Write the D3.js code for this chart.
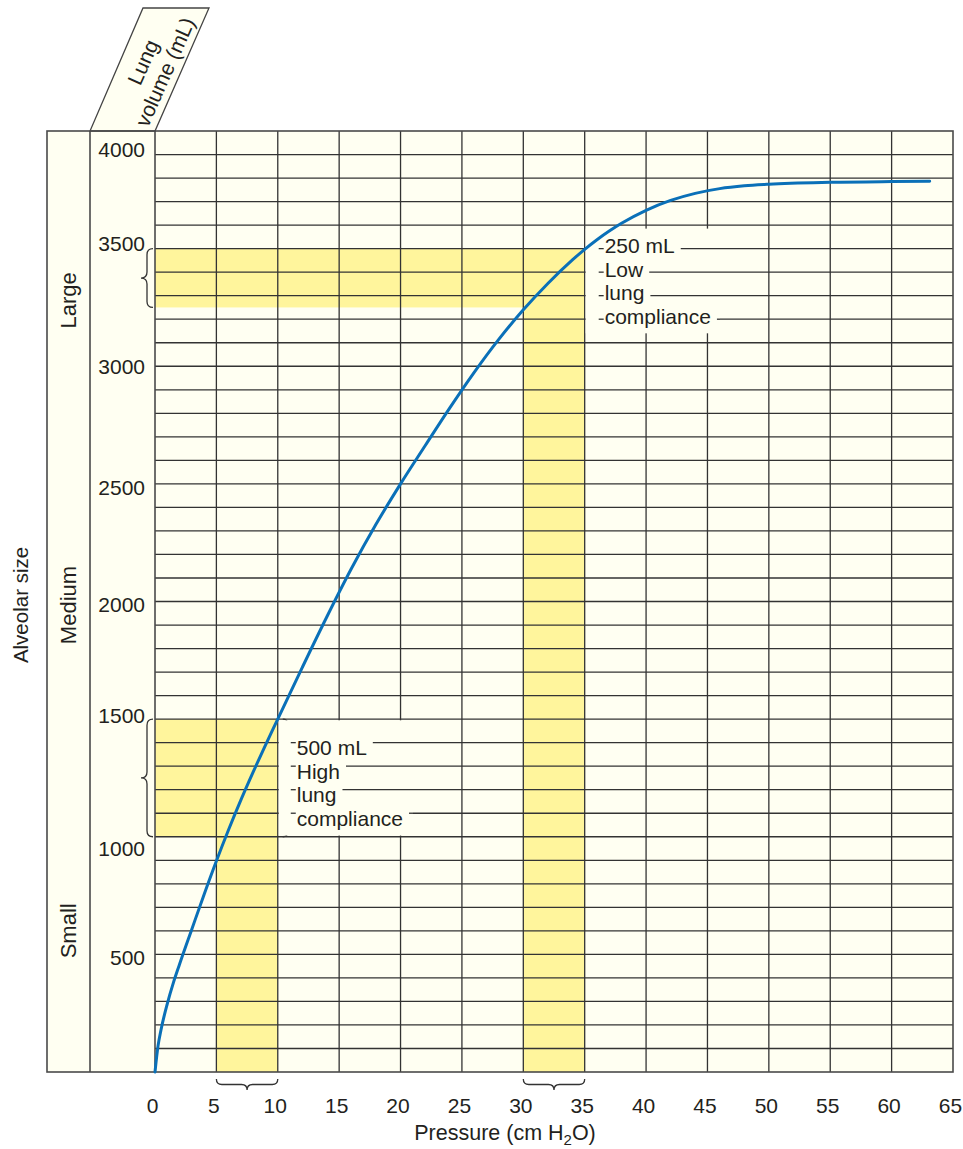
<!DOCTYPE html>
<html>
<head>
<meta charset="utf-8">
<script src="https://cdn.jsdelivr.net/npm/d3@7"></script>
<style>
  html, body { margin: 0; padding: 0; background: #ffffff; }
  svg { display: block; font-family: "Liberation Sans", Arial, Helvetica, sans-serif; }
</style>
</head>
<body>
<svg id="chart" width="963" height="1149"></svg>
<script>
// ---- data ----
const pressureTicks = [0, 5, 10, 15, 20, 25, 30, 35, 40, 45, 50, 55, 60, 65];
const volumeTicks = [500, 1000, 1500, 2000, 2500, 3000, 3500, 4000];

// pressure-volume curve of the lung (cm H2O, mL)
const curvePressure = [0, 0.25, 0.5, 1, 1.5, 2, 3, 4, 5, 6, 7, 8, 9, 10, 12, 14, 16, 18, 20,
  22, 24, 26, 28, 30, 32, 34, 35, 36, 37, 38, 40, 42, 44, 46, 48, 50, 55, 60, 63.1];
const curveVolume = [0, 112, 182, 290, 380, 458, 607, 755, 897, 1031, 1157, 1276, 1390, 1500,
  1720, 1935, 2140, 2328, 2500, 2662, 2822, 2974, 3114, 3240, 3352, 3452, 3497, 3538, 3575, 3608,
  3663, 3705, 3735, 3755, 3767, 3774, 3782, 3785, 3786];

// compliance windows: a 5 cm H2O pressure step and the volume gained over it
const highCompliancePressure = [5, 10];
const highComplianceVolume = [1000, 1500];
const lowCompliancePressure = [30, 35];
const lowComplianceVolume = [3250, 3500];
const highComplianceWords = ["High", "lung", "compliance"];
const lowComplianceWords = ["Low", "lung", "compliance"];

const sizeCategories = ["Small", "Medium", "Large"];
const sizeLabelVolume = [600, 1985, 3280];

// ---- layout ----
const frameLeft = 47, catRight = 90, plotLeft = 155, plotRight = 953, plotTop = 131, plotBottom = 1072;
const cream = "#fffff2", yellow = "#fff59c", ink = "#231f20", gridColor = "#333333", curveColor = "#0a70b8";
const fontSize = 21;

const svg = d3.select("#chart");
const x = d3.scaleLinear().domain([0, 65]).range([plotLeft, plotRight]);
const y = d3.scaleLinear().domain([0, 4000]).range([plotBottom, plotTop]);

// background panel
svg.append("rect").attr("x", frameLeft).attr("y", plotTop)
  .attr("width", plotRight - frameLeft).attr("height", plotBottom - plotTop).attr("fill", cream);

// slanted header for the volume axis
svg.append("polygon")
  .attr("points", [[catRight, plotTop], [plotLeft, plotTop], [209, 8], [143, 8]].map(p => p.join(",")).join(" "))
  .attr("fill", cream).attr("stroke", "#444").attr("stroke-width", 1.3);
const head = svg.append("g").attr("transform", "translate(154,67) rotate(-66)")
  .attr("font-size", fontSize).attr("fill", ink).attr("text-anchor", "middle");
head.append("text").attr("y", -12).attr("dy", "0.35em").text("Lung");
head.append("text").attr("y", 12).attr("dy", "0.35em").text("volume (mL)");

// yellow highlight: horizontal band across to the curve and vertical column down to zero
function highlight(pr, vol) {
  const g = svg.append("g").attr("fill", yellow);
  g.append("rect").attr("x", x(0)).attr("y", y(vol[1]))
    .attr("width", x(pr[1]) - x(0)).attr("height", y(vol[0]) - y(vol[1]));
  g.append("rect").attr("x", x(pr[0])).attr("y", y(vol[1]))
    .attr("width", x(pr[1]) - x(pr[0])).attr("height", y(0) - y(vol[1]));
}
highlight(highCompliancePressure, highComplianceVolume);
highlight(lowCompliancePressure, lowComplianceVolume);

// grid
const grid = svg.append("g").attr("stroke", gridColor).attr("stroke-width", 1.3);
const hLines = d3.range(100, 4000, 100);
grid.selectAll("line.h").data(hLines).join("line").attr("class", "h")
  .attr("x1", plotLeft).attr("x2", plotRight).attr("y1", d => y(d)).attr("y2", d => y(d));
grid.selectAll("line.v").data(pressureTicks.slice(1, -1)).join("line").attr("class", "v")
  .attr("x1", d => x(d)).attr("x2", d => x(d)).attr("y1", plotTop).attr("y2", plotBottom);

// frame
const frame = svg.append("g").attr("stroke", "#4a4a4a").attr("stroke-width", 1.6).attr("fill", "none");
frame.append("rect").attr("x", frameLeft).attr("y", plotTop)
  .attr("width", plotRight - frameLeft).attr("height", plotBottom - plotTop);
frame.append("line").attr("x1", catRight).attr("x2", catRight).attr("y1", plotTop).attr("y2", plotBottom);
frame.append("line").attr("x1", plotLeft).attr("x2", plotLeft).attr("y1", plotTop).attr("y2", plotBottom);

// curly braces
function vBrace(xEnd, y0, y1, dir, w) {
  const xm = xEnd + dir * w / 2, xt = xEnd + dir * w, ym = (y0 + y1) / 2, r = w / 2;
  return `M${xEnd},${y0} Q${xm},${y0} ${xm},${y0 + r} L${xm},${ym - r} Q${xm},${ym} ${xt},${ym}` +
         ` Q${xm},${ym} ${xm},${ym + r} L${xm},${y1 - r} Q${xm},${y1} ${xEnd},${y1}`;
}
function hBrace(yEnd, x0, x1, dir, w) {
  const ym = yEnd + dir * w / 2, yt = yEnd + dir * w, xm = (x0 + x1) / 2, r = w / 2;
  return `M${x0},${yEnd} Q${x0},${ym} ${x0 + r},${ym} L${xm - r},${ym} Q${xm},${ym} ${xm},${yt}` +
         ` Q${xm},${ym} ${xm + r},${ym} L${x1 - r},${ym} Q${x1},${ym} ${x1},${yEnd}`;
}
const braces = svg.append("g").attr("fill", "none").attr("stroke", "#333").attr("stroke-width", 1.3);

// annotation block: label lines sit on grid lines, grid knocked out behind them
function annotate(pr, vol, words, opts) {
  const xs = x(pr[1]);
  const texts = [`${vol[1] - vol[0]} mL`].concat(words);
  svg.append("rect").attr("x", xs + 1).attr("y", y(opts.blockTop))
    .attr("width", opts.blockRight - xs - 1).attr("height", y(opts.blockBottom) - y(opts.blockTop))
    .attr("fill", cream);
  const g = svg.append("g").attr("font-size", fontSize).attr("fill", ink);
  texts.forEach((t, i) => {
    const ly = y(opts.firstLine - 100 * i);
    const tx = xs + opts.textOffset;
    const txt = g.append("text").attr("x", tx).attr("y", ly + opts.baseline).text(t);
    const end = tx + txt.node().getComputedTextLength();
    g.append("line").attr("x1", tx - 6).attr("x2", tx - 1)
      .attr("y1", ly).attr("y2", ly).attr("stroke", gridColor).attr("stroke-width", 1.3);
    if (end + 6 < opts.blockRight)
      g.append("line").attr("x1", end + 6).attr("x2", opts.blockRight)
        .attr("y1", ly).attr("y2", ly).attr("stroke", gridColor).attr("stroke-width", 1.3);
  });
  // right-hand brace spanning the volume step
  braces.append("path").attr("d", vBrace(xs + opts.braceGap, y(vol[1]), y(vol[0]), 1, opts.braceWidth));
}
annotate(lowCompliancePressure, lowComplianceVolume, lowComplianceWords,
  { blockTop: 3585, blockBottom: 3140, blockRight: 720, firstLine: 3500, textOffset: 20, baseline: 4.5, braceGap: 4, braceWidth: 11 });
annotate(highCompliancePressure, highComplianceVolume, highComplianceWords,
  { blockTop: 1495, blockBottom: 1005, blockRight: 413, firstLine: 1400, textOffset: 19, baseline: 12.5, braceGap: 5, braceWidth: 10 });

// left braces on the volume axis, bottom braces on the pressure axis
[[highCompliancePressure, highComplianceVolume], [lowCompliancePressure, lowComplianceVolume]].forEach(([pr, vol]) => {
  braces.append("path").attr("d", vBrace(plotLeft - 2, y(vol[1]), y(vol[0]), -1, 12));
  braces.append("path").attr("d", hBrace(plotBottom + 7, x(pr[0]), x(pr[1]), 1, 11));
});

// curve
const pts = curvePressure.map((p, i) => ({ p, v: curveVolume[i] }));
svg.append("path").datum(pts)
  .attr("fill", "none").attr("stroke", curveColor).attr("stroke-width", 3).attr("stroke-linecap", "round")
  .attr("d", d3.line().x(d => x(d.p)).y(d => y(d.v)).curve(d3.curveMonotoneX));

// axes (labels only)
const xAxis = svg.append("g").attr("transform", `translate(-3,${plotBottom})`)
  .call(d3.axisBottom(x).tickValues(pressureTicks).tickSize(0).tickPadding(26));
xAxis.select(".domain").remove();
xAxis.selectAll("text").attr("font-size", fontSize).attr("fill", ink).attr("font-family", null);

const yLabelShift = { 4000: 19, 3500: -5, 3000: 1, 2500: 4, 2000: 3, 1500: -3, 1000: 12, 500: 3 };
const yAxis = svg.append("g").attr("transform", `translate(${plotLeft},0)`)
  .call(d3.axisLeft(y).tickValues(volumeTicks).tickFormat(d3.format("d")).tickSize(0).tickPadding(10));
yAxis.select(".domain").remove();
yAxis.selectAll("text").attr("font-size", fontSize).attr("fill", ink).attr("font-family", null)
  .attr("y", d => yLabelShift[d] || 0);

// titles
const title = svg.append("text").attr("x", 505).attr("y", 1140)
  .attr("text-anchor", "middle").attr("font-size", 21.5).attr("fill", ink);
title.append("tspan").text("Pressure (cm H");
title.append("tspan").attr("font-size", 15).attr("dy", 4.5).text("2");
title.append("tspan").attr("dy", -4.5).text("O)");

svg.append("text").attr("transform", "translate(28,605) rotate(-90)")
  .attr("text-anchor", "middle").attr("font-size", 20.5).attr("fill", ink).text("Alveolar size");

svg.append("g").selectAll("text").data(sizeCategories).join("text")
  .attr("transform", (d, i) => `translate(${(frameLeft + catRight) / 2 + 7.5},${y(sizeLabelVolume[i])}) rotate(-90)`)
  .attr("text-anchor", "middle").attr("font-size", 22).attr("fill", ink)
  .attr("font-family", "'Liberation Sans Narrow', 'Arial Narrow', 'Liberation Sans', Arial, sans-serif")
  .text(d => d);
</script>
</body>
</html>
